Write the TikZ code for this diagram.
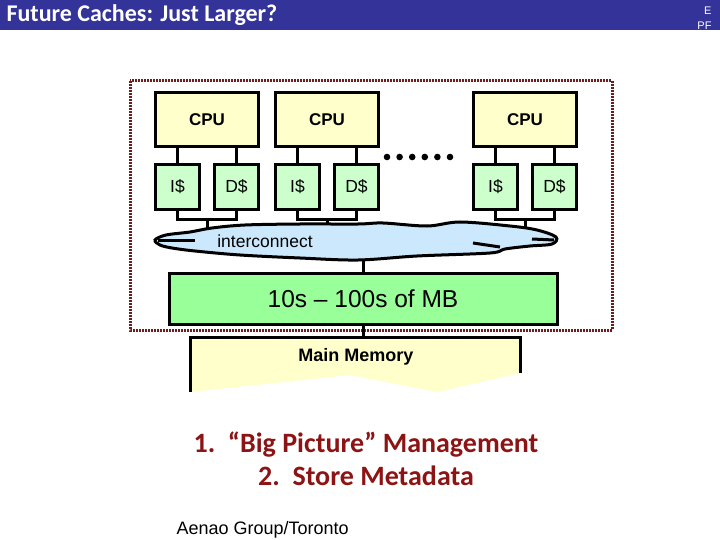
\documentclass[tikz,border=0pt]{standalone}
\usepackage{fontspec}
\setmainfont{Liberation Sans}
\newfontfamily\calibri{Carlito}
\usetikzlibrary{positioning}
\definecolor{titlebar}{RGB}{51,51,153}
\definecolor{chipred}{RGB}{110,28,28}
\definecolor{textred}{RGB}{140,20,20}
\definecolor{paleyellow}{RGB}{255,255,204}
\definecolor{palegreen}{RGB}{204,255,204}
\definecolor{brightgreen}{RGB}{153,255,153}
\definecolor{paleblue}{RGB}{204,232,252}
\tikzset{
  unit/.style = {
    draw, line width=3pt, inner sep=0pt,
    font=\fontsize{17.5}{20}\selectfont
  },
  cpubox/.style = {unit, fill=paleyellow, minimum width=103pt, minimum height=54pt,
    font=\fontsize{17}{20}\selectfont\bfseries},
  cachebox/.style = {unit, fill=palegreen, minimum width=44pt, minimum height=45pt},
  wire/.style = {line width=3pt}
}

\begin{document}
\begin{tikzpicture}[x=1pt,y=-1pt]
  \useasboundingbox (0,0) rectangle (720,540);
  % title
  \fill[titlebar] (0,0) rectangle (720,30);
  \node[anchor=west, text=white, font=\calibri\fontsize{24}{26}\selectfont\bfseries]
    (title) at (3,15) {Future Caches: Just Larger?};
  \node[anchor=east, text=white, align=right, font=\fontsize{11}{15}\selectfont]
    (corner) at (715,18) {E\\PF};
  % chip
  \draw[chipred, line width=3pt, dash pattern=on 2pt off 1pt] (130,81) rectangle (612,330);
  \node[inner sep=0pt, minimum width=404pt, minimum height=34pt] (net) at (355,240) {};
  \node[unit, fill=brightgreen, minimum width=388pt, minimum height=51pt,
    font=\fontsize{24.5}{27}\selectfont] (cache) at (363,298.5) {10s -- 100s of MB};
  % cores
  \foreach \i/\x in {1/154,2/274,3/472} {
    \node[cpubox, anchor=north west] (cpu\i) at (\x,91) {CPU};
    \node[cachebox, anchor=north west] (ic\i) at (\x,163) {I\$};
    \node[cachebox, anchor=north west] (dc\i) at (\x+59,163) {D\$};
    \coordinate[below=72pt of cpu\i.south] (join\i);
    \draw[wire] (cpu\i.south -| ic\i) -- (ic\i);
    \draw[wire] (cpu\i.south -| dc\i) -- (dc\i);
    \draw[wire] (ic\i) |- (join\i) -| (dc\i);
    \draw[wire] (join\i) -- (join\i |- net.center);
  }
  \foreach \k in {0,...,5}
    \fill (387+12.6*\k,157) circle (3.3pt);
  \draw[wire] (cache.north) -- (cache.north |- net.center);
  % cloud
  \draw[wire, fill=paleblue] plot[smooth cycle, tension=0.55] coordinates {
    (155,240) (166,235) (190,232) (212,228) (245,225) (300,224) (358,224)
    (383,223) (427,226) (460,222) (510,226) (537,230) (556,237)
    (552,244) (530,246) (505,249) (490,253) (417,256) (358,260) (300,258)
    (240,255) (195,251) (172,248) (160,245)};
  \draw[wire] (158,240) -- (195,240);
  \draw[wire] (473,243) -- (500,247);
  \draw[wire] (532,239) -- (554,240);
  \node[font=\fontsize{17.5}{20}\selectfont] (netlabel) at (265,241) {interconnect};
  % main memory
  \coordinate (memtop) at (363,337);
  \fill[paleyellow] (190,337) -- (520,337) -- (520,373) -- (437,392)
    -- (350,375) -- (190,392) -- cycle;
  \draw[wire] (190,392) -- (190,337) -- (520,337) -- (520,373);
  \draw[wire] (cache.south) -- (memtop);
  \node[font=\fontsize{18}{20}\selectfont\bfseries] (mainmem) at (356,357) {Main Memory};
  % points
  \node[text=textred, align=center, font=\calibri\fontsize{28}{33}\selectfont\bfseries]
    (points) at (366,459) {1.~~“Big Picture” Management\\2.~~Store Metadata};
  \node[anchor=west, font=\fontsize{18}{20}\selectfont] (credit) at (173,530)
    {Aenao Group/Toronto};
\end{tikzpicture}
\end{document}
